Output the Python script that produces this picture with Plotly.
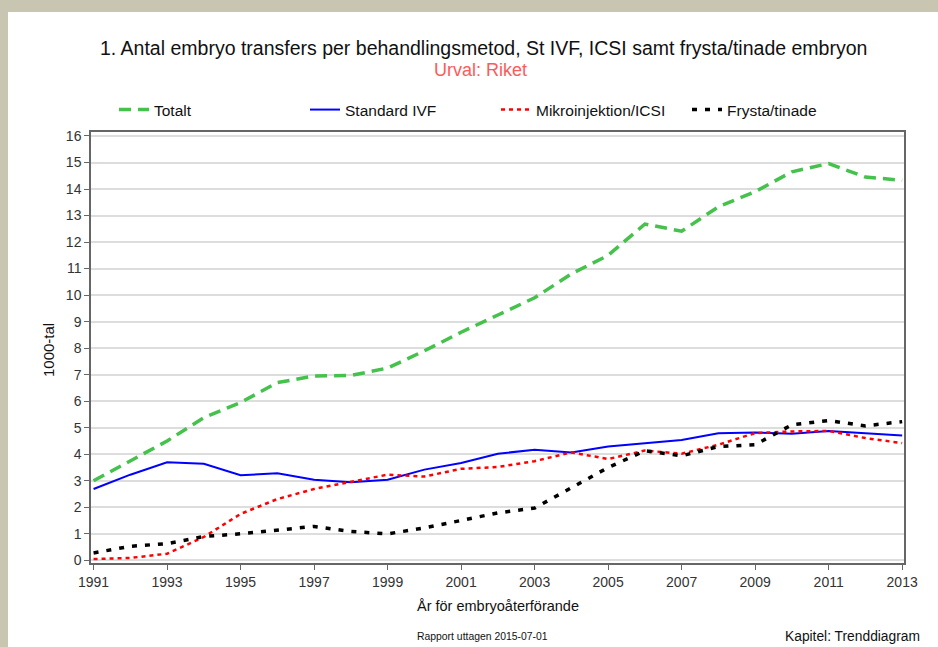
import plotly.graph_objects as go

years = list(range(1991, 2014))

totalt = [3.0, 3.75, 4.5, 5.38, 5.95, 6.7, 6.95, 6.97, 7.25, 7.9, 8.6, 9.25, 9.9,
          10.8, 11.5, 12.68, 12.41, 13.33, 13.9, 14.65, 14.96, 14.45, 14.33]
standard_ivf = [2.69, 3.23, 3.7, 3.64, 3.21, 3.28, 3.04, 2.94, 3.04, 3.42, 3.67, 4.02, 4.17,
                4.07, 4.29, 4.42, 4.54, 4.79, 4.82, 4.77, 4.88, 4.79, 4.71]
icsi = [0.05, 0.09, 0.25, 0.88, 1.75, 2.31, 2.69, 2.97, 3.23, 3.16, 3.45, 3.52, 3.74,
        4.07, 3.82, 4.14, 4.02, 4.36, 4.8, 4.86, 4.88, 4.61, 4.42]
frysta = [0.28, 0.53, 0.63, 0.9, 1.0, 1.13, 1.28, 1.09, 1.0, 1.22, 1.51, 1.79, 1.97,
          2.73, 3.5, 4.13, 3.94, 4.29, 4.36, 5.11, 5.27, 5.07, 5.23]

x_ticks = list(range(1991, 2014, 2))
y_ticks = list(range(0, 17))

title_text = "1. Antal embryo transfers per behandlingsmetod, St IVF, ICSI samt frysta/tinade embryon"
subtitle_text = "Urval: Riket"
x_title = "År för embryoåterförande"
y_title = "1000-tal"
footer_left = "Rapport uttagen 2015-07-01"
footer_right = "Kapitel: Trenddiagram"

FONT = "Liberation Sans, Arial, sans-serif"

fig = go.Figure()
fig.add_trace(go.Scatter(x=years, y=totalt, name="Totalt", mode="lines",
                         line=dict(color="#44c24c", width=3.5, dash="12px,7px")))
fig.add_trace(go.Scatter(x=years, y=standard_ivf, name="Standard IVF", mode="lines",
                         line=dict(color="#0000ff", width=2)))
fig.add_trace(go.Scatter(x=years, y=icsi, name="Mikroinjektion/ICSI", mode="lines",
                         line=dict(color="#ff0000", width=2.5, dash="4px,4px")))
fig.add_trace(go.Scatter(x=years, y=frysta, name="Frysta/tinade", mode="lines",
                         line=dict(color="#000000", width=3.5, dash="5px,8px")))

W, H = 938, 647
L, R, T, B = 91, 34, 132, 84
ph = H - T - B
pw = W - L - R

def py(pix):
    return (H - B - pix) / ph

def px(pix):
    return (pix - L) / pw

fig.update_layout(
    width=W, height=H,
    margin=dict(l=L, r=R, t=T, b=B, autoexpand=False),
    paper_bgcolor="#c8c5b1",
    plot_bgcolor="#ffffff",
    font=dict(family=FONT, color="#222222"),
    showlegend=True,
    legend=dict(orientation="h", x=px(114), y=py(110), xanchor="left", yanchor="middle",
                font=dict(size=15.5, color="#111111"), entrywidth=146, entrywidthmode="pixels",
                bgcolor="rgba(0,0,0,0)", itemwidth=30, traceorder="normal"),
    xaxis=dict(range=[1990.93, 2013.05], tickvals=x_ticks, ticktext=[str(v) for v in x_ticks],
               showgrid=False, zeroline=False, showline=True, linecolor="#666666", linewidth=1.5,
               mirror=True, ticks="outside", ticklen=5, tickcolor="#666666",
               tickfont=dict(size=14, color="#333333")),
    yaxis=dict(range=[-0.1, 16.15], tickvals=y_ticks, showgrid=True, gridcolor="#dddddd",
               gridwidth=1.5, zeroline=False, showline=True, linecolor="#666666", linewidth=1.5,
               mirror=True, ticks="outside", ticklen=5, tickcolor="#666666",
               tickfont=dict(size=14, color="#333333")),
    shapes=[dict(type="rect", xref="paper", yref="paper", layer="below",
                 x0=px(8), x1=px(W + 10), y0=py(H + 10), y1=py(12),
                 fillcolor="#ffffff", line=dict(width=0))],
    annotations=[
        dict(text=title_text, x=px(483), y=py(48), xref="paper", yref="paper", showarrow=False,
             xanchor="center", yanchor="middle", font=dict(size=19.5, color="#111111")),
        dict(text=subtitle_text, x=px(480), y=py(70), xref="paper", yref="paper", showarrow=False,
             xanchor="center", yanchor="middle", font=dict(size=18, color="#ff5a5a")),
        dict(text=x_title, x=px(498), y=py(606), xref="paper", yref="paper", showarrow=False,
             xanchor="center", yanchor="middle", font=dict(size=14.5, color="#111111")),
        dict(text=y_title, x=px(48), y=py(350), xref="paper", yref="paper", showarrow=False,
             xanchor="center", yanchor="middle", textangle=-90, font=dict(size=15, color="#111111")),
        dict(text=footer_left, x=px(482), y=py(636), xref="paper", yref="paper", showarrow=False,
             xanchor="center", yanchor="middle", font=dict(size=10.4, color="#111111")),
        dict(text=footer_right, x=px(922), y=py(636), xref="paper", yref="paper", showarrow=False,
             xanchor="right", yanchor="middle", font=dict(size=13.8, color="#111111")),
    ],
)

fig.write_html("out.html", config={"displayModeBar": False},
               post_script="document.body.style.margin='0px';")
